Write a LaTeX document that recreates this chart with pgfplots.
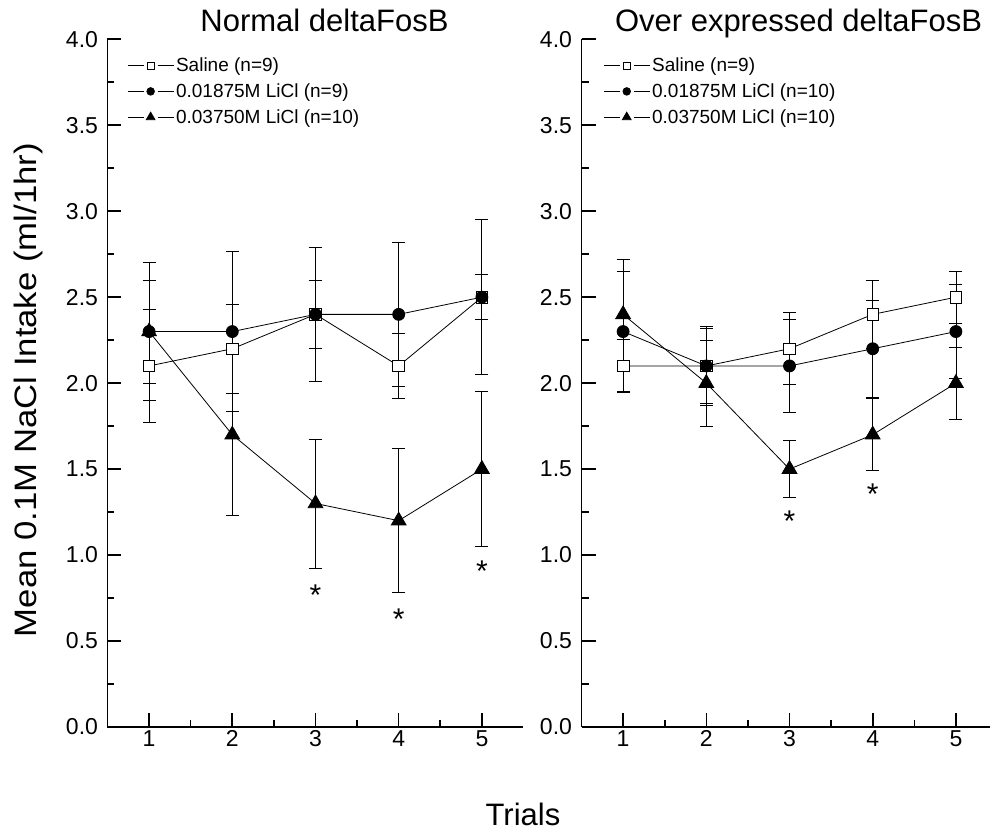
\documentclass[border=0pt]{standalone}
\usepackage{fontspec}
\setmainfont{Liberation Sans}
\usepackage{graphicx}
\usepackage{pgfplots}
\pgfplotsset{compat=1.18}
\newcommand\myfs[1]{\fontsize{#1pt}{#1pt}\selectfont}

\pgfplotsset{
  myaxis/.style={
    scale only axis, width=416pt, height=687.7pt,
    xmin=0.5, xmax=5.5, ymin=0, ymax=4,
    axis lines=left, axis line style={-, line width=1.6pt},
    xtick={1,2,3,4,5}, ytick={0,0.5,1,1.5,2,2.5,3,3.5,4},
    minor x tick num=1, minor y tick num=1,
    tick align=inside, major tick length=14pt, minor tick length=7pt,
    every tick/.style={line width=1.6pt, black},
    tick label style={font=\myfs{23}},
    /pgf/number format/assume math mode=true,
    yticklabel style={xshift=-6pt, /pgf/number format/.cd, fixed, fixed zerofill, precision=1},
    title style={font=\myfs{31}, at={(axis description cs:0.5,1)}, anchor=base, xshift=9pt, yshift=1.3pt},
    clip=false,
    legend cell align=left,
    legend image code/.code={
      \draw[#1, mark=none] (0pt,0pt) -- (16pt,0pt) (30pt,0pt) -- (46pt,0pt);
      \draw[#1] plot coordinates {(23pt,0pt)};
    },
    legend style={draw=none, fill=none, font=\myfs{19}, anchor=north west,
      inner sep=0pt, row sep=6.5pt, nodes={inner sep=2pt}},
    error bars/error bar style={line width=0.8pt, black},
    error bars/error mark options={rotate=90, mark size=6.5pt, line width=0.8pt, black},
  },
  sal/.style={black, line width=0.8pt, mark=square*, mark size=5.8pt,
    mark options={fill=white, solid}, error bars/y dir=both, error bars/y explicit},
  cir/.style={black, line width=0.8pt, mark=*, mark size=6pt,
    mark options={fill=black, solid}, error bars/y dir=both, error bars/y explicit},
  tri/.style={black, line width=0.8pt, mark=triangle*, mark size=8.5pt,
    mark options={fill=black, solid}, error bars/y dir=both, error bars/y explicit},
  stars/.style={draw=none, mark=none, forget plot, nodes near coords={*},
    every node near coord/.style={anchor=center, font=\myfs{30}, yshift=-6pt}},
}

\begin{document}
\begin{tikzpicture}
\useasboundingbox (-107.5pt,-102pt) rectangle (882.5pt,727pt);

\begin{axis}[myaxis, at={(0pt,0pt)}, anchor=south west,
  title={Normal deltaFosB},
  ylabel={\scalebox{1.12}[1]{Mean 0.1M NaCl Intake (ml/1hr)}},
  ylabel style={font=\myfs{31}, at={(axis description cs:-0.19,0.49)}, anchor=center},
  xlabel={Trials},
  xlabel style={font=\myfs{31}, at={(axis description cs:0.9988,0)}, anchor=base, yshift=-98pt},
  legend style={at={(axis description cs:0.047,0.976)}},
]
\addplot[sal, legend image post style={mark size=3.5pt}] coordinates {
  (1,2.1) +- (0,0.33)
  (2,2.2) +- (0,0.26)
  (3,2.4) +- (0,0.20)
  (4,2.1) +- (0,0.19)
  (5,2.5) +- (0,0.13)
};
\addlegendentry{Saline (n=9)}
\addplot[cir, legend image post style={mark size=3.8pt}] coordinates {
  (1,2.3) +- (0,0.30)
  (2,2.3) +- (0,0.465)
  (3,2.4) +- (0,0.39)
  (4,2.4) +- (0,0.42)
  (5,2.5) +- (0,0.45)
};
\addlegendentry{0.01875M LiCl (n=9)}
\addplot[tri, legend image post style={mark size=5pt}] coordinates {
  (1,2.3) +- (0,0.40)
  (2,1.7) +- (0,0.467)
  (3,1.3) +- (0,0.375)
  (4,1.2) +- (0,0.42)
  (5,1.5) +- (0,0.45)
};
\addlegendentry{0.03750M LiCl (n=10)}
\addplot[stars] coordinates {(3,0.80) (4,0.66) (5,0.94)};
\end{axis}

\begin{axis}[myaxis, at={(474pt,0pt)}, anchor=south west,
  title={Over expressed deltaFosB},
  legend style={at={(axis description cs:0.052,0.976)}},
]
\addplot[sal, legend image post style={mark size=3.5pt}] coordinates {
  (1,2.1) +- (0,0.155)
  (2,2.1) +- (0,0.23)
  (3,2.2) +- (0,0.21)
  (4,2.4) +- (0,0.20)
  (5,2.5) +- (0,0.15)
};
\addlegendentry{Saline (n=9)}
\addplot[cir, legend image post style={mark size=3.8pt}] coordinates {
  (1,2.3) +- (0,0.35)
  (2,2.1) +- (0,0.22)
  (3,2.1) +- (0,0.27)
  (4,2.2) +- (0,0.28)
  (5,2.3) +- (0,0.275)
};
\addlegendentry{0.01875M LiCl (n=10)}
\addplot[tri, legend image post style={mark size=5pt}] coordinates {
  (1,2.4) +- (0,0.32)
  (2,2.0) +- (0,0.25)
  (3,1.5) +- (0,0.165)
  (4,1.7) +- (0,0.21)
  (5,2.0) +- (0,0.21)
};
\addlegendentry{0.03750M LiCl (n=10)}
\addplot[stars] coordinates {(3,1.23) (4,1.39)};
\end{axis}
\end{tikzpicture}
\end{document}
